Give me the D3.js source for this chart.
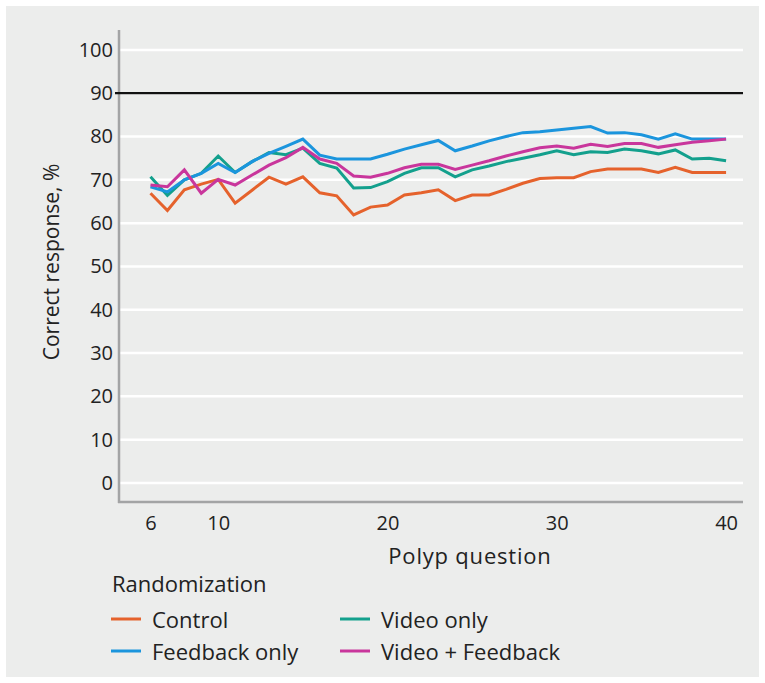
<!DOCTYPE html>
<html>
<head>
<meta charset="utf-8">
<script src="https://cdn.jsdelivr.net/npm/d3@7"></script>
<style>
  html, body { margin: 0; padding: 0; background: #ffffff; }
  svg { display: block; }
  text { font-family: "Open Sans", "Noto Sans", sans-serif; fill: #222; }
</style>
</head>
<body>
<svg id="chart" width="765" height="683"></svg>
<script>
// ---- Data ----
const questions = d3.range(6, 41); // 6..40
const xTicks = [6, 10, 20, 30, 40];
const yTicks = [0, 10, 20, 30, 40, 50, 60, 70, 80, 90, 100];
const targetLine = 90;

const control = [66.9, 62.9, 67.7, 69.0, 70.1, 64.6, 67.6, 70.6, 69.0, 70.7,
                 67.0, 66.3, 61.9, 63.7, 64.2, 66.5, 67.0, 67.7, 65.2, 66.5,
                 66.5, 67.8, 69.2, 70.3, 70.5, 70.5, 71.9, 72.5, 72.5, 72.5,
                 71.7, 72.9, 71.7, 71.7, 71.7];
const feedbackOnly = [68.4, 67.2, 70.0, 71.5, 73.8, 71.7, 74.2, 76.1, 77.7, 79.4,
                      75.7, 74.8, 74.8, 74.8, 75.9, 77.1, 78.1, 79.1, 76.7, 77.8,
                      79.0, 80.0, 80.9, 81.1, 81.5, 81.9, 82.3, 80.8, 80.9, 80.4,
                      79.4, 80.6, 79.4, 79.4, 79.4];
const videoOnly = [70.7, 66.4, 70.0, 71.5, 75.5, 71.7, 74.2, 76.3, 75.8, 77.3,
                   73.8, 72.7, 68.1, 68.2, 69.6, 71.5, 72.8, 72.8, 70.7, 72.3,
                   73.2, 74.2, 75.0, 75.8, 76.7, 75.8, 76.5, 76.3, 77.1, 76.7,
                   76.0, 76.9, 74.8, 75.0, 74.4];
const videoFeedback = [68.8, 68.4, 72.3, 66.9, 70.1, 68.8, 71.1, 73.4, 75.1, 77.5,
                       74.8, 73.8, 70.9, 70.6, 71.5, 72.8, 73.6, 73.6, 72.4, 73.4,
                       74.4, 75.5, 76.5, 77.4, 77.8, 77.3, 78.2, 77.7, 78.4, 78.4,
                       77.5, 78.1, 78.7, 79.0, 79.4];

const seriesNames = ["Control", "Feedback only", "Video only", "Video + Feedback"];
const seriesColors = ["#E5622C", "#1B95DD", "#13A08D", "#C9369C"];
const seriesValues = [control, feedbackOnly, videoOnly, videoFeedback];
// draw order (bottom to top)
const drawOrder = [0, 2, 1, 3];

// ---- Layout ----
const svg = d3.select("#chart");
svg.append("rect").attr("x", 6).attr("y", 6).attr("width", 753).attr("height", 671)
  .attr("fill", "#ECEDEC");

const x = d3.scaleLinear().domain([4.14, 41.0]).range([119, 743]);
const y = d3.scaleLinear().domain([-4.4, 104.6]).range([502, 30]);

// gridlines
svg.append("g").selectAll("line").data(yTicks).join("line")
  .attr("x1", 119).attr("x2", 743)
  .attr("y1", d => y(d)).attr("y2", d => y(d))
  .attr("stroke", "#ffffff").attr("stroke-width", 2.5);

// axes
const yAxis = d3.axisLeft(y).tickValues(yTicks).tickSize(0).tickPadding(6);
const gy = svg.append("g").attr("transform", "translate(119,0)").call(yAxis);
gy.select(".domain").remove();
gy.selectAll("text").attr("font-size", 20).attr("fill", "#222")
  .style("font-family", '"Open Sans", sans-serif');

const xAxis = d3.axisBottom(x).tickValues(xTicks).tickSize(0).tickPadding(14);
const gx = svg.append("g").attr("transform", "translate(0,502)").call(xAxis);
gx.select(".domain").remove();
gx.selectAll("text").attr("font-size", 20).attr("fill", "#222")
  .style("font-family", '"Open Sans", sans-serif');

// axis lines
svg.append("line").attr("x1", 119).attr("x2", 119).attr("y1", 30).attr("y2", 503)
  .attr("stroke", "#A3A4A5").attr("stroke-width", 2.5);
svg.append("line").attr("x1", 118).attr("x2", 743).attr("y1", 502).attr("y2", 502)
  .attr("stroke", "#A3A4A5").attr("stroke-width", 2.5);

// target line
svg.append("line").attr("x1", 115).attr("x2", 743)
  .attr("y1", y(targetLine)).attr("y2", y(targetLine))
  .attr("stroke", "#111").attr("stroke-width", 2.3);

// series lines
const line = d3.line().x((d, i) => x(questions[i])).y(d => y(d));
drawOrder.forEach(k => {
  svg.append("path").datum(seriesValues[k])
    .attr("d", line)
    .attr("fill", "none")
    .attr("stroke", seriesColors[k])
    .attr("stroke-width", 3)
    .attr("stroke-linejoin", "miter");
});

// axis titles
svg.append("text").attr("x", 470).attr("y", 564).attr("text-anchor", "middle")
  .attr("font-size", 22).attr("letter-spacing", 0.8).text("Polyp question");
svg.append("text").attr("transform", "translate(59,262) rotate(-90)")
  .attr("text-anchor", "middle").attr("font-size", 21).text("Correct response, %");

// legend
svg.append("text").attr("x", 112).attr("y", 592).attr("font-size", 22).text("Randomization");
const legendPos = [
  {lx: 111, ty: 628, ly: 619},
  {lx: 111, ty: 660, ly: 651},
  {lx: 340, ty: 628, ly: 619},
  {lx: 340, ty: 660, ly: 651}
];
seriesNames.forEach((name, k) => {
  const p = legendPos[k];
  svg.append("line").attr("x1", p.lx).attr("x2", p.lx + 30)
    .attr("y1", p.ly).attr("y2", p.ly)
    .attr("stroke", seriesColors[k]).attr("stroke-width", 3);
  svg.append("text").attr("x", p.lx + 41).attr("y", p.ty).attr("font-size", 22).text(name);
});
</script>
</body>
</html>
